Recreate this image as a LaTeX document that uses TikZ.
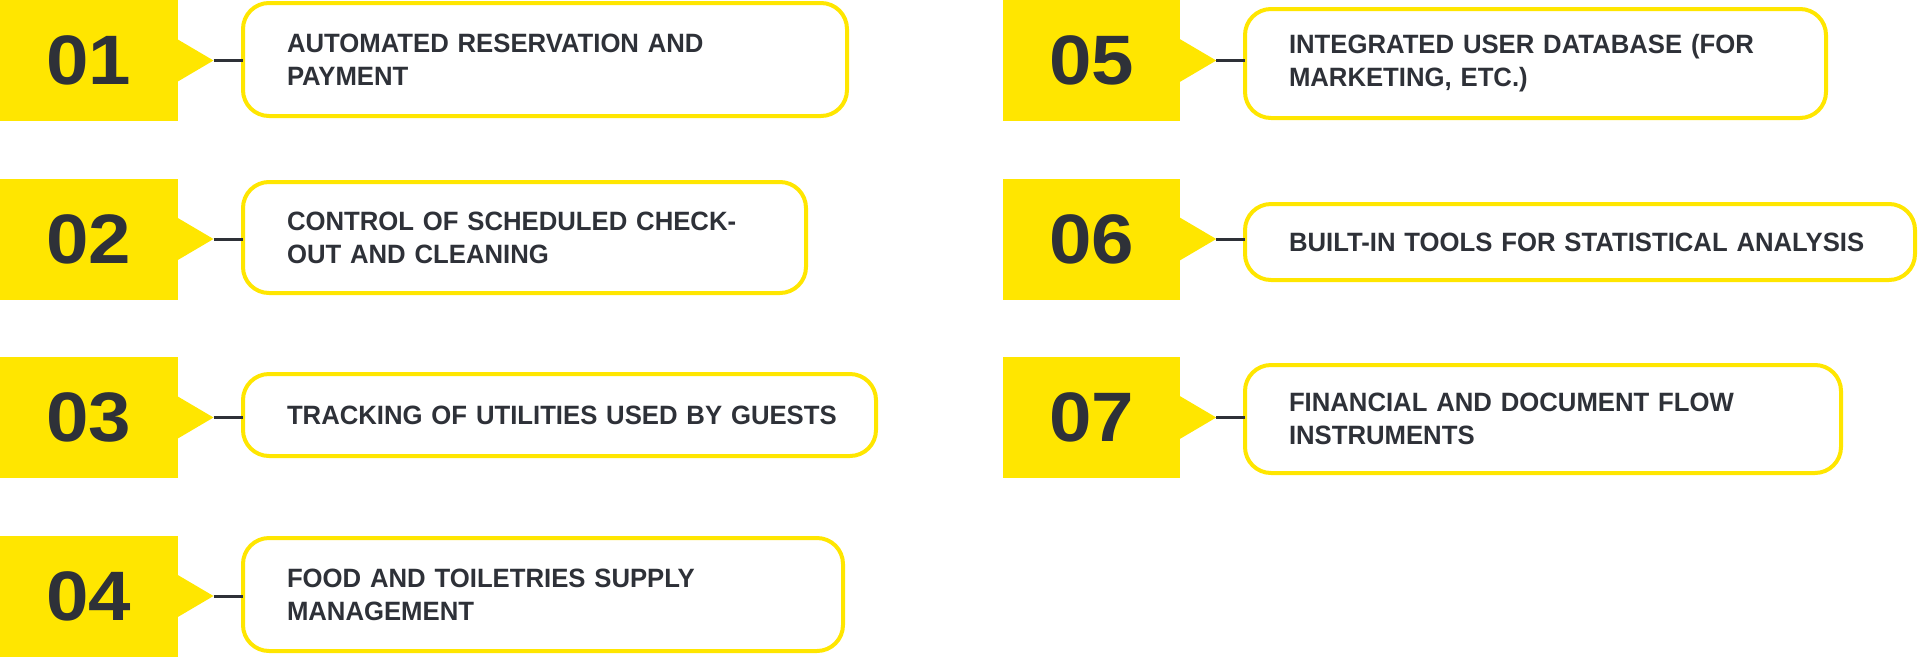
\documentclass[tikz,border=0pt]{standalone}
\usepackage{fontspec}
\setmainfont{Liberation Sans}[FakeStretch=0.97]
\newfontfamily\numfont{Liberation Sans}[FakeStretch=1.09]
\usetikzlibrary{calc}
\definecolor{ylw}{HTML}{FFE600}
\definecolor{ink}{HTML}{2E3138}
\tikzset{
  numbox/.style={fill=ylw, draw=none, minimum width=177.5pt, minimum height=121pt, inner sep=0pt, outer sep=0pt,
    text=ink, font=\numfont\bfseries\fontsize{70}{70}\selectfont},
  itembox/.style={draw=ylw, line width=4pt, rounded corners=26pt, fill=white, anchor=north west,
    inner xsep=44pt, inner ysep=0pt, outer sep=0pt, align=left, text=ink,
    font=\bfseries\fontsize{26.5}{33}\selectfont},
  conn/.style={draw=ink, line width=3pt},
  tri/.style={fill=ylw}
}
\begin{document}
\begin{tikzpicture}[x=1pt,y=-1pt]
\useasboundingbox (0,0) rectangle (1920,657);
% number squares
\node[numbox] (n1) at (88.75,60.5) {01};
\node[numbox] (n2) at (88.75,239) {02};
\node[numbox] (n3) at (88.75,417.5) {03};
\node[numbox] (n4) at (88.75,596) {04};
\node[numbox] (n5) at (1091.5,60.5) {05};
\node[numbox] (n6) at (1091.5,239) {06};
\node[numbox] (n7) at (1091.5,417.5) {07};
% pointers
\foreach \i in {1,...,7}{
  \fill[tri] ($(n\i.east)+(-0.5,-21.5)$) -- ($(n\i.east)+(36,0)$) coordinate (t\i) -- ($(n\i.east)+(-0.5,21.5)$) -- cycle;
}
% item boxes
\node[itembox, minimum width=604pt, minimum height=113pt, text width=516pt] (b1) at (243,3)
  {\mbox{AUTOMATED RESERVATION AND}\\\mbox{PAYMENT}};
\node[itembox, minimum width=563pt, minimum height=111pt, text width=475pt] (b2) at (243,182)
  {\mbox{CONTROL OF SCHEDULED CHECK-}\\\mbox{OUT AND CLEANING}};
\node[itembox, minimum width=633pt, minimum height=82pt, text width=545pt] (b3) at (243,374)
  {\mbox{TRACKING OF UTILITIES USED BY GUESTS}};
\node[itembox, minimum width=600pt, minimum height=113pt, text width=512pt] (b4) at (243,538)
  {\mbox{FOOD AND TOILETRIES SUPPLY}\\\mbox{MANAGEMENT}};
\node[itembox, minimum width=581pt, minimum height=109pt, text width=493pt] (b5) at (1245,9)
  {\mbox{INTEGRATED USER DATABASE (FOR}\\\mbox{MARKETING, ETC.)}};
\node[itembox, minimum width=670pt, minimum height=76pt, text width=582pt] (b6) at (1245,204)
  {\mbox{BUILT-IN TOOLS FOR STATISTICAL ANALYSIS}};
\node[itembox, minimum width=596pt, minimum height=108pt, text width=508pt] (b7) at (1245,365)
  {\mbox{FINANCIAL AND DOCUMENT FLOW}\\\mbox{INSTRUMENTS}};
% connectors
\foreach \i in {1,...,7}{
  \draw[conn] (t\i) -- (b\i.west |- t\i);
}
\end{tikzpicture}
\end{document}
